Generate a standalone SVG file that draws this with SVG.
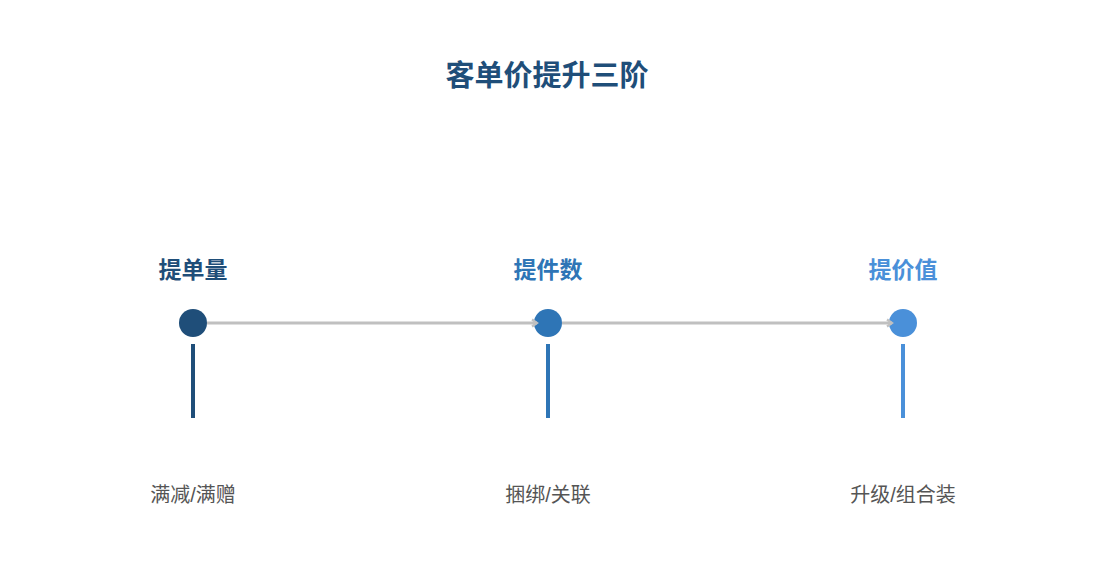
<svg xmlns="http://www.w3.org/2000/svg" width="1095" height="585" viewBox="0 0 1095 585">
<style>
.title{font-family:"Liberation Sans","Noto Sans CJK SC",sans-serif;font-size:29px;font-weight:bold;fill:#1f4e79}
.lbl{font-family:"Liberation Sans","Noto Sans CJK SC",sans-serif;font-size:23px;font-weight:bold}
.sub{font-family:"Liberation Sans","Noto Sans CJK SC",sans-serif;font-size:20px;fill:#555555}
.conn{stroke:#c0c0c0;stroke-width:3;fill:none}
</style>
<defs>
<marker id="arr" markerWidth="10" markerHeight="10" refX="6" refY="5" orient="auto" markerUnits="userSpaceOnUse">
<path d="M1,1.5 L6,5 L1,8.5" fill="none" stroke="#c0c0c0" stroke-width="2.2"/>
</marker>
</defs>
<rect width="1095" height="585" fill="#ffffff"/>
<text class="title" x="547" y="86" text-anchor="middle">客单价提升三阶</text>
<g id="node1">
<text class="lbl" x="193" y="278" text-anchor="middle" fill="#1f4e79">提单量</text>
<circle cx="193" cy="323" r="14" fill="#1f4e79"/>
<rect x="191" y="344" width="4" height="74" fill="#1f4e79"/>
<text class="sub" x="193" y="502" text-anchor="middle">满减/满赠</text>
</g>
<g id="node2">
<text class="lbl" x="548" y="278" text-anchor="middle" fill="#2e75b6">提件数</text>
<circle cx="548" cy="323" r="14" fill="#2e75b6"/>
<rect x="546" y="344" width="4" height="74" fill="#2e75b6"/>
<text class="sub" x="548" y="502" text-anchor="middle">捆绑/关联</text>
</g>
<g id="node3">
<text class="lbl" x="903" y="278" text-anchor="middle" fill="#4a90d9">提价值</text>
<circle cx="903" cy="323" r="14" fill="#4a90d9"/>
<rect x="901" y="344" width="4" height="74" fill="#4a90d9"/>
<text class="sub" x="903" y="502" text-anchor="middle">升级/组合装</text>
</g>
<g id="connectors">
<line class="conn" x1="207" y1="323" x2="537" y2="323" marker-end="url(#arr)"/>
<line class="conn" x1="562" y1="323" x2="892" y2="323" marker-end="url(#arr)"/>
</g>
</svg>
